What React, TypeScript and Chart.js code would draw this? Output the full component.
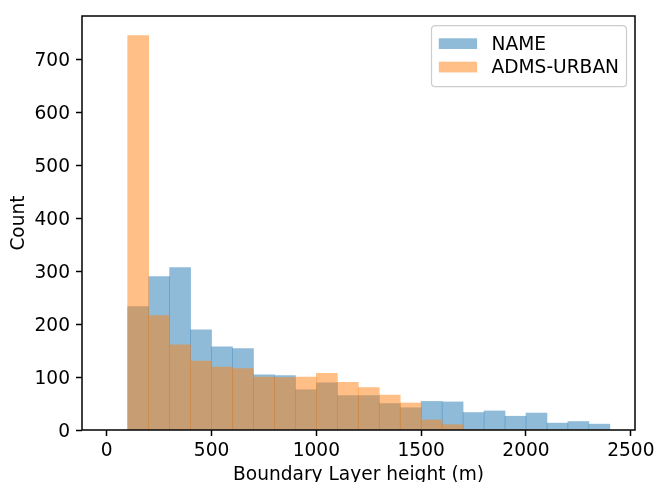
import React, { useEffect, useRef } from 'react';
import { Chart, registerables } from 'chart.js';

Chart.register(...registerables);

// Histogram bins (100 m wide), given by their centres
const binCenters = [150, 250, 350, 450, 550, 650, 750, 850, 950, 1050, 1150, 1250, 1350, 1450, 1550, 1650, 1750, 1850, 1950, 2050, 2150, 2250, 2350];
const nameCounts = [233, 290, 307, 189, 157, 154, 104, 103, 76, 89, 65, 65, 50, 42, 54, 53, 33, 36, 26, 32, 13, 16, 11];
const admsCounts = [745, 216, 161, 130, 119, 116, 100, 99, 100, 107, 90, 80, 66, 51, 19, 10, 0, 0, 0, 0, 0, 0, 0];
const xTicks = [0, 500, 1000, 1500, 2000, 2500];
const yTicks = [0, 100, 200, 300, 400, 500, 600, 700];
const seriesNames = ['NAME', 'ADMS-URBAN'];
const seriesColors = ['rgba(31,119,180,0.5)', 'rgba(255,127,14,0.5)'];

const FONT = '"DejaVu Sans", sans-serif';
const FS = 18.6;

const framePlugin = {
  id: 'frameAndLegend',
  afterDraw(chart: any) {
    const { ctx, chartArea: a } = chart;
    ctx.save();
    ctx.strokeStyle = '#000';
    ctx.lineWidth = 1.5;
    ctx.strokeRect(a.left, a.top, a.right - a.left, a.bottom - a.top);

    // legend box
    const bx = a.right - 203.5;
    const by = a.top + 9.7;
    const bw = 195;
    const bh = 61;
    const r = 4;
    ctx.beginPath();
    ctx.moveTo(bx + r, by);
    ctx.lineTo(bx + bw - r, by);
    ctx.quadraticCurveTo(bx + bw, by, bx + bw, by + r);
    ctx.lineTo(bx + bw, by + bh - r);
    ctx.quadraticCurveTo(bx + bw, by + bh, bx + bw - r, by + bh);
    ctx.lineTo(bx + r, by + bh);
    ctx.quadraticCurveTo(bx, by + bh, bx, by + bh - r);
    ctx.lineTo(bx, by + r);
    ctx.quadraticCurveTo(bx, by, bx + r, by);
    ctx.closePath();
    ctx.fillStyle = 'rgba(255,255,255,0.8)';
    ctx.fill();
    ctx.strokeStyle = '#cccccc';
    ctx.lineWidth = 1.2;
    ctx.stroke();

    ctx.font = `${FS}px ${FONT}`;
    ctx.textBaseline = 'alphabetic';
    ctx.textAlign = 'left';
    seriesNames.forEach((name, i) => {
      const py = by + 12.6 + i * 23.4;
      ctx.fillStyle = seriesColors[i];
      ctx.fillRect(bx + 7.3, py, 38.3, 10.7);
      ctx.fillStyle = '#000';
      ctx.fillText(name, bx + 60, py + 11.6);
    });
    ctx.restore();
  },
};

export default function App() {
  const ref = useRef<HTMLCanvasElement | null>(null);

  useEffect(() => {
    if (!ref.current) return;
    const makeData = (vals: number[]) => vals.map((v, i) => ({ x: binCenters[i], y: v }));
    const chart = new Chart(ref.current, {
      type: 'bar',
      data: {
        datasets: [
          {
            label: seriesNames[0],
            data: makeData(nameCounts),
            backgroundColor: seriesColors[0],
            borderWidth: 0,
            order: 1,
          },
          {
            label: seriesNames[1],
            data: makeData(admsCounts),
            backgroundColor: seriesColors[1],
            borderWidth: 0,
            order: 0,
          },
        ],
      } as any,
      options: {
        animation: false,
        responsive: false,
        maintainAspectRatio: false,
        devicePixelRatio: 1,
        layout: { padding: { top: 16, right: 22, left: 0, bottom: 0 } },
        datasets: {
          bar: { grouped: false, barPercentage: 1, categoryPercentage: 1 },
        } as any,
        plugins: {
          legend: { display: false },
          tooltip: { enabled: false },
        },
        scales: {
          x: {
            type: 'linear',
            min: -118,
            max: 2520,
            offset: false,
            grid: {
              offset: false,
              drawOnChartArea: false,
              drawTicks: true,
              tickLength: 6,
              tickWidth: 1.5,
              tickColor: '#000',
            },
            border: { display: false },
            afterBuildTicks: (scale: any) => {
              scale.ticks = xTicks.map((v) => ({ value: v }));
            },
            afterFit: (scale: any) => {
              scale.height = 52;
              scale.paddingLeft = 0;
              scale.paddingRight = 0;
            },
            ticks: {
              maxRotation: 0,
              autoSkip: false,
              padding: 4,
              color: '#000',
              font: { family: FONT, size: FS },
              callback: (v: any) => String(v),
            },
            title: {
              display: true,
              text: 'Boundary Layer height (m)',
              color: '#000',
              font: { family: FONT, size: FS, lineHeight: 1 },
              padding: { top: 0, bottom: -2 },
            },
          },
          y: {
            type: 'linear',
            min: 0,
            max: 782,
            grid: {
              drawOnChartArea: false,
              drawTicks: true,
              tickLength: 6,
              tickWidth: 1.5,
              tickColor: '#000',
            },
            border: { display: false },
            afterBuildTicks: (scale: any) => {
              scale.ticks = yTicks.map((v) => ({ value: v }));
            },
            afterFit: (scale: any) => {
              scale.width = 82;
              scale.paddingTop = 0;
              scale.paddingBottom = 0;
            },
            ticks: {
              padding: 6,
              labelOffset: 2,
              color: '#000',
              font: { family: FONT, size: FS },
              callback: (v: any) => String(v),
            },
            title: {
              display: true,
              text: 'Count',
              color: '#000',
              font: { family: FONT, size: FS, lineHeight: 1 },
              padding: { top: 10, bottom: 0 },
            },
          },
        },
      } as any,
      plugins: [framePlugin],
    });
    return () => chart.destroy();
  }, []);

  return (
    <div style={{ position: 'absolute', left: 0, top: 0, width: 657, height: 482 }}>
      <canvas ref={ref} width={657} height={482} style={{ width: 657, height: 482, display: 'block' }} />
    </div>
  );
}
